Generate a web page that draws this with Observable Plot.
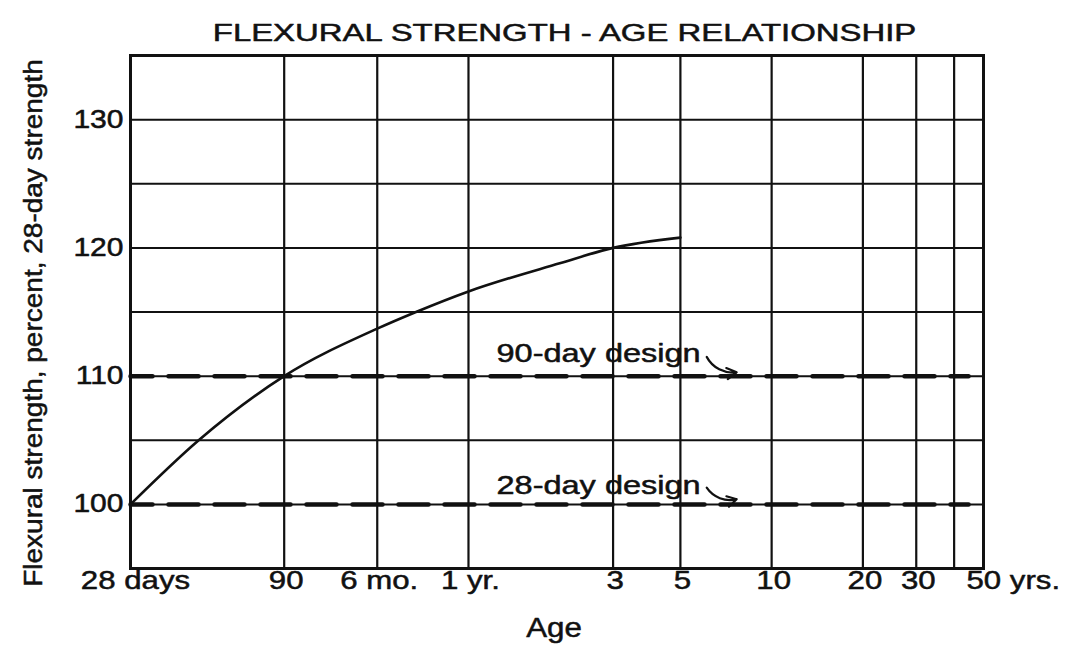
<!DOCTYPE html>
<html>
<head>
<meta charset="utf-8">
<script src="https://cdn.jsdelivr.net/npm/d3@7"></script>
<script src="https://cdn.jsdelivr.net/npm/@observablehq/plot@0.6"></script>
<style>
  html, body { margin: 0; padding: 0; background: #fff; }
  svg { display: block; }
</style>
</head>
<body>
<div id="chart"></div>
<script>
// ---- data ----
const title = "FLEXURAL STRENGTH - AGE RELATIONSHIP";
const yLabel = "Flexural strength, percent, 28-day strength";
const xLabel = "Age";

// age in days (log scale)
const xTickValues = [28, 90, 182.5, 365, 1095, 1826, 3652, 7305, 10957, 18262];
const xTickLabels = ["28 days", "90", "6 mo.", "1 yr.", "3", "5", "10", "20", "30", "50 yrs."];
const xGridValues = [90, 182.5, 365, 1095, 1826, 3652, 7305, 10957, 14610];
const yTickValues = [100, 110, 120, 130];
const yGridValues = [100, 105, 110, 115, 120, 125, 130];

// strength-age curve
const curveAge = [28, 47, 90, 182.5, 245, 365, 730, 1095, 1826];
const curveStrength = [100, 105, 110, 113.7, 115, 116.6, 118.8, 120, 120.8];

// design levels
const designLevels = [110, 100];
const designEnd = 16300;
const designLabels = ["90-day design", "28-day design"];
const labelAge = [2130, 2130];
const labelStrength = [111.7, 101.4];
const arrowFromAge = [2230, 2230];
const arrowToAge = [2800, 2800];
const arrowFromStrength = [111.5, 101.3];
const arrowToStrength = [110.3, 100.4];

// ---- build ----
const curve = curveAge.map((a, i) => ({age: a, s: curveStrength[i]}));
const design = designLevels.flatMap((lv, i) => [{age: 28, s: lv, k: i}, {age: designEnd, s: lv, k: i}]);
const labels = designLabels.map((t, i) => ({t, age: labelAge[i], s: labelStrength[i]}));
const arrows = designLabels.map((t, i) => ({x1: arrowFromAge[i], y1: arrowFromStrength[i], x2: arrowToAge[i], y2: arrowToStrength[i]}));
const n = xTickValues.length;
const xtFirst = [{v: xTickValues[0], t: xTickLabels[0]}];
const xtMid = xTickValues.slice(1, n - 1).map((v, i) => ({v, t: xTickLabels[i + 1]}));
const xtLast = [{v: xTickValues[n - 1], t: xTickLabels[n - 1]}];

const font = "'Liberation Sans', Arial, Helvetica, sans-serif";
const ink = "#111";
const txt = {fill: ink, stroke: ink, strokeWidth: 0.5};

const chart = Plot.plot({
  width: 1069,
  height: 648,
  marginLeft: 130,
  marginRight: 86,
  marginTop: 55,
  marginBottom: 80,
  style: {fontFamily: font, background: "#fff", color: ink},
  x: {type: "log", domain: [28, 18262.5], axis: null},
  y: {domain: [95, 135], axis: null},
  marks: [
    Plot.gridX(xGridValues, {stroke: ink, strokeOpacity: 1, strokeWidth: 2.2}),
    Plot.gridY(yGridValues, {stroke: ink, strokeOpacity: 1, strokeWidth: 2}),
    Plot.frame({stroke: ink, strokeWidth: 3}),
    Plot.line(design, {x: "age", y: "s", z: "k", stroke: ink, strokeWidth: 4.5, strokeDasharray: "30,16", strokeDashoffset: 8}),
    Plot.line(curve, {x: "age", y: "s", curve: "monotone-x", stroke: ink, strokeWidth: 2.6}),
    Plot.text(labels, {x: "age", y: "s", text: "t", textAnchor: "end", fontSize: 25, ...txt}),
    Plot.arrow(arrows, {x1: "x1", y1: "y1", x2: "x2", y2: "y2", bend: -35, stroke: ink, strokeWidth: 2.2, headLength: 9}),
    // x tick labels
    Plot.text(xtFirst, {x: "v", text: "t", frameAnchor: "bottom", dx: 5, dy: 20, fontSize: 26, ...txt}),
    Plot.text(xtMid, {x: "v", text: "t", frameAnchor: "bottom", dx: 2, dy: 20, fontSize: 26, ...txt}),
    Plot.text(xtLast, {x: "v", text: "t", frameAnchor: "bottom", textAnchor: "start", dx: -17, dy: 20, fontSize: 26, ...txt}),
    // y tick labels
    Plot.text(yTickValues, {y: d => d, text: d => String(d), frameAnchor: "left", textAnchor: "end", dx: -7, fontSize: 25, ...txt}),
    // axis labels & title
    Plot.text([xLabel], {text: d => d, frameAnchor: "bottom", dx: -3, dy: 68, fontSize: 27, ...txt}),
    Plot.text([yLabel], {text: d => d, frameAnchor: "left", textAnchor: "middle", rotate: -90, dx: -97, dy: 11, fontSize: 25, ...txt}),
    Plot.text([title], {text: d => d, frameAnchor: "top", dx: 7.5, dy: -32, fontSize: 24, ...txt})
  ]
});
document.getElementById("chart").appendChild(chart);

// widen glyphs to match the reference's extended lettering
function stretchFor(s) {
  if (s === title) return 1.37;
  if (s === yLabel) return 1.12;
  if (s === xLabel) return 1.16;
  if (designLabels.includes(s)) return 1.3;
  return 1.2;
}
d3.select(chart).selectAll("text").each(function () {
  const s = this.textContent;
  const w = this.getComputedTextLength();
  if (w > 0) {
    this.setAttribute("textLength", (w * stretchFor(s)).toFixed(1));
    this.setAttribute("lengthAdjust", "spacingAndGlyphs");
  }
});
</script>
</body>
</html>
